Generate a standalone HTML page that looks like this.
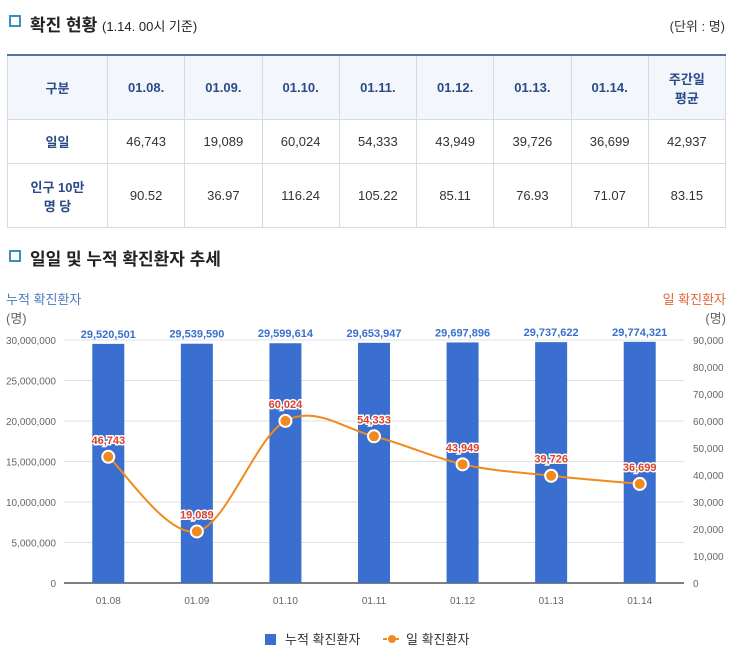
<!DOCTYPE html>
<html><head><meta charset="utf-8">
<style>
body{margin:0;width:731px;height:663px;background:#fff;font-family:"Liberation Sans","Noto Sans CJK KR",sans-serif;color:#333;position:relative;overflow:hidden}
.t{position:absolute;white-space:nowrap}
.icon{position:absolute;width:8px;height:8px;border:2px solid #3a8fc0;background:#fff;outline:0}
table{position:absolute;left:7px;top:54px;border-collapse:collapse;width:719px;font-size:13px;table-layout:fixed}
td,th{border:1px solid #d5dbe5;text-align:center;padding:0}
th{background:#f3f6fb;color:#2a4b8a;font-weight:bold;height:63px}
tr.r1 td{height:43px}
tr.r2 td{height:63px}
table{border-top:2px solid #5b6f9e}
td.h{font-weight:bold;color:#2a4b8a;background:#fff}
</style></head><body>
<div class="icon" style="left:9px;top:15px"></div>
<div class="t" style="left:30px;top:11px;font-size:17px;font-weight:bold;color:#222">확진 현황 <span style="font-size:13px;font-weight:normal">(1.14. 00시 기준)</span></div>
<div class="t" style="right:6px;top:16px;font-size:13px">(단위 : 명)</div>
<table>
<colgroup><col style="width:100px"><col><col><col><col><col><col><col><col></colgroup>
<tr><th>구분</th><th>01.08.</th><th>01.09.</th><th>01.10.</th><th>01.11.</th><th>01.12.</th><th>01.13.</th><th>01.14.</th><th>주간일<br>평균</th></tr>
<tr class="r1"><td class="h">일일</td><td>46,743</td><td>19,089</td><td>60,024</td><td>54,333</td><td>43,949</td><td>39,726</td><td>36,699</td><td>42,937</td></tr>
<tr class="r2"><td class="h">인구 10만<br>명 당</td><td>90.52</td><td>36.97</td><td>116.24</td><td>105.22</td><td>85.11</td><td>76.93</td><td>71.07</td><td>83.15</td></tr>
</table>
<div class="icon" style="left:9px;top:250px"></div>
<div class="t" style="left:30px;top:245px;font-size:17px;font-weight:bold;color:#222">일일 및 누적 확진환자 추세</div>
<div class="t" style="left:6px;top:289px;font-size:13px;color:#4a7cc0">누적 확진환자<br><span style="color:#666">(명)</span></div>
<div class="t" style="right:5px;top:289px;font-size:13px;color:#e0643a;text-align:right">일 확진환자<br><span style="color:#666">(명)</span></div>
<svg id="chart" width="731" height="663" style="position:absolute;left:0;top:0"></svg>
<div>
<div class="t" style="left:265px;top:629px;font-size:13px"><span style="display:inline-block;width:11px;height:11px;background:#3a6fcf;vertical-align:-1px;margin-right:9px"></span>누적 확진환자</div>
<div class="t" style="left:383px;top:629px;font-size:13px"><svg width="18" height="12" style="vertical-align:-1px;margin-right:5px"><line x1="0" y1="6" x2="18" y2="6" stroke="#f08a1c" stroke-width="2" stroke-dasharray="4,2"/><circle cx="9" cy="6" r="4" fill="#f08a1c"/></svg>일 확진환자</div>
</div>
<script>
const categories=["01.08","01.09","01.10","01.11","01.12","01.13","01.14"];
const cumulative=[29520501,29539590,29599614,29653947,29697896,29737622,29774321];
const daily=[46743,19089,60024,54333,43949,39726,36699];
const leftTicks=[0,5000000,10000000,15000000,20000000,25000000,30000000];
const rightTicks=[0,10000,20000,30000,40000,50000,60000,70000,80000,90000];
const NS="http://www.w3.org/2000/svg";
const svg=document.getElementById('chart');
const X0=64,X1=684,Y0=583,Y1=340;
const band=(X1-X0)/categories.length;
const xc=i=>X0+band*(i+0.5);
const yL=v=>Y0-v/30000000*(Y0-Y1);
const yR=v=>Y0-v/90000*(Y0-Y1);
const fmt=v=>v.toLocaleString('en-US');
function mk(t,a){const e=document.createElementNS(NS,t);for(const k in a)e.setAttribute(k,a[k]);svg.appendChild(e);return e;}
leftTicks.forEach(v=>{
 const g=mk('line',{x1:X0,x2:X1,y1:yL(v),y2:yL(v),stroke:v?'#e2e2e2':'#000','stroke-width':1});
 
 
 const t=mk('text',{x:X0-8,y:yL(v)+4,'text-anchor':'end','font-size':10,fill:'#666'});t.textContent=fmt(v);
 
 
});
rightTicks.forEach(v=>{
 const t=mk('text',{x:693,y:yR(v)+4,'font-size':10,fill:'#666'});t.textContent=fmt(v);
 
 
});
categories.forEach((c,i)=>{
 const y=yL(cumulative[i]);
 const r=mk('rect',{x:xc(i)-16,y:y,width:32,height:Y0-y,fill:'#3a6fcf'});
 
 
 const t=mk('text',{x:xc(i),y:y-6,'text-anchor':'middle','font-size':11,'font-weight':'bold',fill:'#3a6fcf'});t.textContent=fmt(cumulative[i]);
 
 
 const l=mk('text',{x:xc(i),y:604,'text-anchor':'middle','font-size':10,fill:'#666'});l.textContent=c;
 
 
});
const pts=daily.map((v,i)=>[xc(i),yR(v)]);
let d='M'+pts[0][0]+','+pts[0][1];
const tn=0.5;
for(let i=0;i<pts.length-1;i++){
 const p0=pts[Math.max(0,i-1)],p1=pts[i],p2=pts[i+1],p3=pts[Math.min(pts.length-1,i+2)];
 const c1=[p1[0]+(p2[0]-p0[0])*tn/3,p1[1]+(p2[1]-p0[1])*tn/3];
 const c2=[p2[0]-(p3[0]-p1[0])*tn/3,p2[1]-(p3[1]-p1[1])*tn/3];
 d+=` C${c1[0]},${c1[1]} ${c2[0]},${c2[1]} ${p2[0]},${p2[1]}`;
}
const path=mk('path',{d:d,fill:'none',stroke:'#f08a1c','stroke-width':2});


pts.forEach((p,i)=>{
 const c=mk('circle',{cx:p[0],cy:p[1],r:6,fill:'#f08a1c',stroke:'#fff','stroke-width':2});
 
 
 const t=mk('text',{x:p[0],y:p[1]-13,'text-anchor':'middle','font-size':11,'font-weight':'bold',fill:'#d9412b',stroke:'#fff','stroke-width':3,'paint-order':'stroke'});t.textContent=fmt(daily[i]);
 
 
});
</script>
</body></html>
